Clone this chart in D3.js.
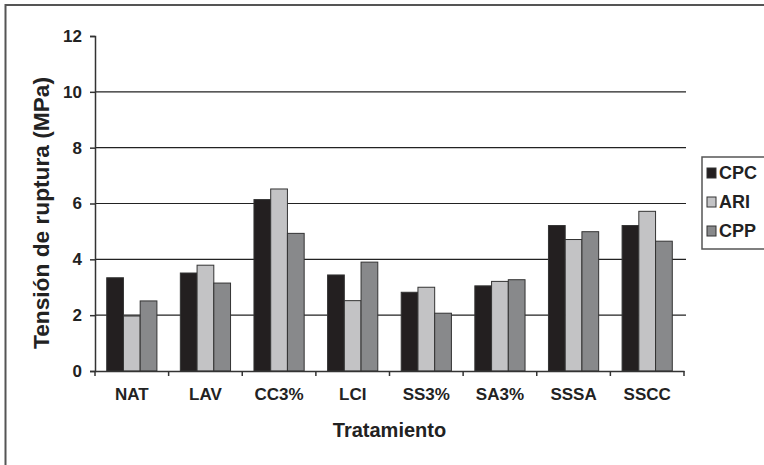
<!DOCTYPE html>
<html>
<head>
<meta charset="utf-8">
<script src="https://cdn.jsdelivr.net/npm/d3@7"></script>
<style>
  body { margin: 0; background: #fff; }
  text { font-family: "Liberation Sans", Arial, sans-serif; font-weight: bold; fill: #222; }
</style>
</head>
<body>
<svg width="764" height="465"></svg>
<script>
// data
var categories = ["NAT", "LAV", "CC3%", "LCI", "SS3%", "SA3%", "SSSA", "SSCC"];
var series = ["CPC", "ARI", "CPP"];
var cpc = [3.34, 3.51, 6.14, 3.44, 2.82, 3.05, 5.21, 5.21];
var ari = [1.97, 3.79, 6.52, 2.52, 3.0, 3.21, 4.71, 5.72];
var cpp = [2.51, 3.15, 4.93, 3.9, 2.07, 3.27, 4.99, 4.65];
var yTicks = [0, 2, 4, 6, 8, 10, 12];
var colors = ["#231f20", "#c3c3c5", "#88898b"];

var values = [cpc, ari, cpp];
var svg = d3.select("svg");

// outer frame (only top and left visible)
svg.append("rect")
    .attr("x", 5.5).attr("y", 5)
    .attr("width", 820).attr("height", 520)
    .attr("fill", "none")
    .attr("stroke", "#555")
    .attr("stroke-width", 2);

var plotLeft = 95, plotRight = 684, plotTop = 36, plotBottom = 371;

var x = d3.scaleBand().domain(categories).range([plotLeft, plotRight]).padding(0);
var xs = d3.scaleBand().domain(series).range([0, x.bandwidth()]).paddingInner(0).paddingOuter(0.7);
var y = d3.scaleLinear().domain([0, 12]).range([plotBottom, plotTop]);

// gridlines
svg.append("g")
    .selectAll("line")
    .data(yTicks.filter(function (d) { return d > 0 && d < 12; }))
    .enter().append("line")
    .attr("x1", plotLeft).attr("x2", plotRight + 2)
    .attr("y1", function (d) { return y(d); })
    .attr("y2", function (d) { return y(d); })
    .attr("stroke", "#222")
    .attr("stroke-width", 1.2);

// bars
var groups = svg.append("g")
    .selectAll("g")
    .data(categories)
    .enter().append("g")
    .attr("transform", function (d) { return "translate(" + x(d) + ",0)"; });

groups.selectAll("rect")
    .data(function (d, i) {
        return series.map(function (s, j) { return { s: s, v: values[j][i], c: colors[j] }; });
    })
    .enter().append("rect")
    .attr("x", function (d) { return xs(d.s); })
    .attr("y", function (d) { return y(d.v); })
    .attr("width", xs.bandwidth())
    .attr("height", function (d) { return plotBottom - y(d.v); })
    .attr("fill", function (d) { return d.c; })
    .attr("stroke", "#333")
    .attr("stroke-width", 1);

// y axis
var yAxis = svg.append("g")
    .attr("transform", "translate(" + plotLeft + ",0)")
    .call(d3.axisLeft(y).tickValues(yTicks).tickSize(5).tickPadding(8).tickFormat(d3.format("d")));
yAxis.select(".domain").attr("stroke", "#333").attr("stroke-width", 1.5);
yAxis.selectAll(".tick line").attr("stroke", "#333").attr("stroke-width", 1.5);
yAxis.selectAll("text").style("font-size", "17px").style("font-family", "'Liberation Sans', Arial, sans-serif").attr("fill", "#222");

// x axis
var xAxis = svg.append("g")
    .attr("transform", "translate(0," + plotBottom + ")")
    .call(d3.axisBottom(x).tickSize(0).tickPadding(17));
xAxis.select(".domain").attr("stroke", "#333").attr("stroke-width", 1.5);
xAxis.selectAll("text").style("font-size", "17px").style("font-family", "'Liberation Sans', Arial, sans-serif").attr("fill", "#222");
svg.append("g")
    .selectAll("line")
    .data(categories.map(function (c) { return x(c); }).concat([plotRight]))
    .enter().append("line")
    .attr("x1", function (d) { return d; }).attr("x2", function (d) { return d; })
    .attr("y1", plotBottom).attr("y2", plotBottom + 5)
    .attr("stroke", "#333").attr("stroke-width", 1.5);

// axis titles
svg.append("text")
    .attr("x", (plotLeft + plotRight) / 2)
    .attr("y", 437)
    .attr("text-anchor", "middle")
    .style("font-size", "20px")
    .text("Tratamiento");

svg.append("text")
    .attr("transform", "translate(49," + 213 + ") rotate(-90)")
    .attr("text-anchor", "middle")
    .attr("textLength", 272)
    .attr("lengthAdjust", "spacingAndGlyphs")
    .style("font-size", "22px")
    .text("Tensión de ruptura (MPa)");

// legend
var lg = svg.append("g").attr("transform", "translate(702,157)");
lg.append("rect")
    .attr("width", 80).attr("height", 92)
    .attr("fill", "#fff")
    .attr("stroke", "#555")
    .attr("stroke-width", 1.5);
var items = lg.selectAll("g.item")
    .data(series)
    .enter().append("g")
    .attr("class", "item")
    .attr("transform", function (d, i) { return "translate(5," + (16 + i * 29) + ")"; });
items.append("rect")
    .attr("x", 0).attr("y", -5)
    .attr("width", 9).attr("height", 10)
    .attr("fill", function (d, i) { return colors[i]; })
    .attr("stroke", "#333")
    .attr("stroke-width", 1);
items.append("text")
    .attr("x", 12).attr("y", 6)
    .style("font-size", "18px")
    .text(function (d) { return d; });
</script>
</body>
</html>
